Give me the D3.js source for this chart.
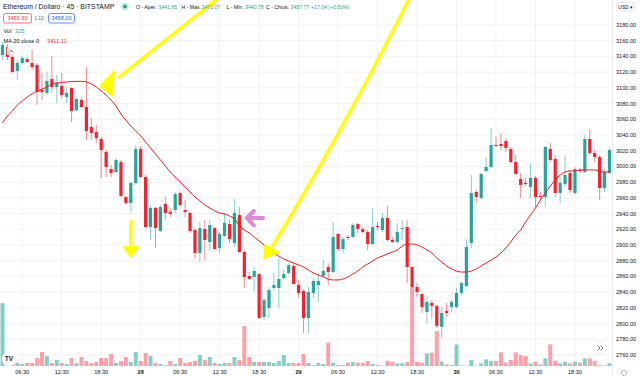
<!DOCTYPE html>
<html>
<head>
<meta charset="utf-8">
<script src="https://cdn.jsdelivr.net/npm/d3@7/dist/d3.min.js"></script>
<style>
  html, body { margin: 0; padding: 0; background: #ffffff; }
  svg { display: block; font-family: "Liberation Sans", Arial, sans-serif; }
</style>
</head>
<body>
<div id="chart"></div>
<script>
'use strict';

// ── Data: ETH/USD 45m candles ───────────────────────────────────────
const opens = [3141.8,3152.0,3139.3,3121.5,3131.6,3136.7,3131.6,3129.1,3097.3,3093.5,
  3111.3,3101.1,3102.4,3088.4,3099.8,3071.8,3084.5,3075.6,3050.2,3043.8,
  3034.9,3018.4,2996.7,2992.9,3005.6,2961.1,2953.5,2978.9,3022.2,2986.5,
  2922.9,2947.1,2917.8,2952.2,2942.0,2944.5,2966.2,2944.5,2940.7,2919.1,
  2889.8,2920.4,2903.8,2921.6,2896.2,2911.5,2926.7,2902.5,2938.2,2891.1,
  2860.6,2859.3,2863.1,2808.4,2819.8,2845.3,2845.3,2858.0,2864.4,2873.3,
  2849.1,2841.5,2807.1,2838.9,2849.1,2860.6,2872.0,2865.7,2914.0,2894.9,
  2910.2,2910.2,2926.7,2920.4,2916.5,2901.3,2924.2,2919.1,2934.4,2906.4,
  2903.8,2920.4,2922.9,2872.0,2846.6,2837.6,2814.8,2826.3,2822.5,2795.8,
  2816.0,2821.1,2821.1,2838.9,2847.8,2902.5,2967.5,2959.8,2994.2,2999.3,
  3027.3,3028.5,3032.4,3022.2,3005.6,2984.0,2978.9,2973.8,2985.3,2962.4,
  2961.1,3022.2,3009.5,2966.2,2977.6,2991.6,2966.2,2995.5,2992.9,3034.9,
  3017.1,3012.0,2972.5,2991.6];

const highs = [3158.4,3155.8,3141.8,3135.5,3140.5,3139.3,3148.2,3131.6,3118.9,3120.2,
  3140.5,3116.4,3118.9,3101.1,3101.0,3088.4,3087.1,3126.5,3061.6,3052.7,
  3037.5,3020.9,3001.8,3010.7,3008.2,2962.4,2980.2,3027.3,3026.0,2989.1,
  2950.9,2948.4,2950.9,2961.1,2947.1,2967.5,2967.5,2957.3,2942.0,2921.6,
  2929.3,2931.8,2931.8,2922.9,2916.5,2940.7,2931.8,2958.5,2948.4,2893.6,
  2865.7,2872.0,2864.4,2832.6,2846.6,2864.4,2884.7,2868.2,2877.1,2877.1,
  2855.5,2844.0,2846.6,2858.0,2864.4,2880.9,2877.1,2929.3,2915.3,2910.2,
  2912.7,2928.0,2928.0,2922.9,2919.1,2947.1,2929.3,2940.7,2949.6,2910.2,
  2928.0,2931.8,2931.8,2873.3,2851.6,2838.9,2833.8,2830.0,2824.0,2821.1,
  2826.3,2830.0,2845.3,2852.9,2907.6,2989.1,2970.0,2991.6,3012.0,3048.9,
  3037.5,3042.5,3036.2,3024.7,3014.5,2991.6,2985.3,3004.3,2987.8,2967.5,
  3026.0,3029.8,3014.5,2986.5,3014.5,2995.5,2999.3,2998.0,3040.0,3047.6,
  3020.9,3014.5,2996.7,3023.5];

const lows = [3135.5,3135.5,3118.9,3110.0,3130.4,3131.6,3122.7,3078.2,3084.5,3090.9,
  3093.5,3080.7,3087.1,3080.7,3056.5,3069.3,3074.4,3033.6,3033.6,3029.8,
  2985.3,2986.5,2986.5,2991.6,2961.1,2950.9,2942.0,2976.4,2985.3,2921.6,
  2906.4,2896.2,2916.5,2931.8,2935.6,2940.7,2948.4,2935.6,2915.3,2883.5,
  2878.4,2880.9,2893.6,2893.6,2889.8,2910.2,2902.5,2897.5,2889.8,2845.3,
  2855.5,2840.2,2805.8,2804.5,2807.1,2842.7,2819.8,2855.5,2861.8,2849.1,
  2832.6,2788.0,2788.0,2832.6,2827.5,2859.3,2849.1,2864.4,2892.4,2889.8,
  2906.4,2908.9,2915.3,2915.3,2893.6,2900.0,2919.1,2916.5,2905.1,2902.5,
  2902.5,2906.4,2851.6,2845.3,2833.8,2813.5,2800.7,2807.1,2794.5,2781.6,
  2808.4,2814.8,2819.8,2836.4,2846.6,2896.2,2954.7,2957.3,2992.9,2998.0,
  3024.7,3020.9,3018.4,3004.3,2989.1,2959.8,2975.1,2959.8,2948.4,2957.3,
  2948.4,3005.6,2961.1,2953.5,2973.8,2966.2,2963.6,2991.6,2991.6,3014.5,
  3005.6,2957.3,2967.5,2990.4];

const closes = [3154.5,3139.3,3120.2,3131.6,3138.0,3132.9,3126.5,3094.7,3094.7,3108.7,
  3101.1,3106.2,3090.9,3093.5,3070.5,3085.8,3075.6,3045.1,3042.5,3036.2,
  3020.9,2999.3,2991.6,3008.2,2962.4,2953.5,2978.9,3022.2,2986.5,2922.9,
  2947.1,2921.6,2948.4,2940.7,2939.5,2964.9,2950.9,2942.0,2917.8,2889.8,
  2921.6,2906.4,2925.5,2894.9,2914.0,2928.0,2907.6,2940.7,2891.1,2859.3,
  2856.7,2866.9,2807.1,2830.0,2842.7,2849.1,2856.7,2863.1,2874.5,2850.4,
  2838.9,2807.1,2840.2,2854.2,2854.2,2866.9,2865.7,2910.2,2894.9,2907.6,
  2908.9,2925.5,2920.4,2916.5,2901.3,2922.9,2922.9,2934.4,2906.4,2903.8,
  2916.5,2921.6,2872.0,2846.6,2840.2,2821.1,2827.5,2822.5,2797.0,2813.5,
  2813.5,2827.5,2838.9,2851.6,2897.5,2966.2,2961.1,2990.4,2999.3,3027.3,
  3026.0,3026.0,3023.5,3005.6,2990.4,2976.4,2977.6,2985.3,2961.1,2961.1,
  3024.7,3008.2,2966.2,2978.9,2989.1,2970.0,2996.7,2994.2,3034.9,3017.1,
  3012.0,2972.5,2992.9,3020.9];

const volumes = [7560,360,360,400,240,360,360,960,1680,1200,
  360,720,360,240,960,360,1080,600,360,480,
  960,960,1440,360,600,1080,480,1680,600,1560,
  1200,360,240,120,600,240,960,360,480,600,
  1320,720,1080,360,240,360,360,1080,720,4800,
  1080,480,480,480,480,360,600,1320,360,360,
  360,1440,360,120,360,240,2800,400,120,120,
  400,480,400,400,600,240,120,60,640,520,
  320,320,480,9480,520,400,1520,1600,4200,540,
  200,120,2580,60,50,720,50,320,800,600,
  600,1640,400,720,1640,1320,1200,320,520,200,
  920,2600,640,320,520,320,520,400,920,920,
  600,120,50,325];

// MA 20 (close) as drawn on the chart
const ma20 = [3055.3,3064.2,3070.5,3078.2,3083.3,3088.4,3092.2,3096.0,3098.5,3101.1,
  3104.9,3106.2,3106.8,3107.5,3108.1,3108.3,3108.3,3107.5,3104.9,3101.1,
  3096.0,3090.9,3084.5,3076.9,3066.7,3059.1,3051.5,3045.1,3038.7,3031.1,
  3023.5,3015.8,3008.2,3000.5,2992.9,2986.5,2980.2,2973.8,2967.5,2961.1,
  2956.0,2950.9,2947.1,2943.3,2940.7,2939.5,2936.9,2933.1,2924.2,2919.1,
  2915.3,2910.2,2905.1,2900.0,2894.9,2889.8,2886.0,2882.2,2879.6,2877.1,
  2874.6,2872.0,2868.2,2864.4,2861.8,2859.3,2856.7,2855.5,2855.5,2856.7,
  2859.3,2863.1,2866.9,2872.0,2875.8,2879.6,2883.5,2886.0,2888.6,2891.1,
  2893.6,2898.7,2901.3,2901.3,2900.0,2897.5,2893.6,2889.8,2883.5,2878.4,
  2873.3,2869.5,2866.9,2865.6,2865.6,2866.9,2869.5,2873.3,2877.1,2880.9,
  2884.7,2889.8,2896.2,2903.8,2912.7,2919.1,2929.3,2938.2,2947.1,2957.3,
  2966.2,2975.1,2982.7,2989.1,2992.9,2994.2,2994.2,2995.5,2995.5,2995.5,
  2995.5,2994.2,2992.9,2992.9];

const priceTicks = [3180,3160,3140,3120,3100,3080,3060,3040,3020,3000,2980,
  2960,2940,2920,2900,2880,2860,2840,2820,2800,2780,2760];

const timeTickIdx    = [4, 12, 20, 28, 36, 44, 52, 60, 68, 76, 84, 92, 100, 108, 116];
const timeTickLabels = ['06:30','12:30','18:30','28','06:30','12:30','18:30','29',
  '06:30','12:30','18:30','30','06:30','12:30','18:30'];

// Hand-drawn annotations on the screenshot, anchored in (bar index, price)
const arrowStraight = { from: [44.3, 3216.9], to: [23.4, 3112.5], tip: [19.8, 3102.4] };
const arrowCurved   = { from: [82.6, 3215.6], ctrl: [68.2, 3036.2], to: [54.6, 2897.5], tip: [53.0, 2882.2] };
const arrowDown     = { from: [26.0, 2931.8], to: [26.0, 2896.2], tip: [26.0, 2884.7] };
const arrowPink     = { from: [52.8, 2934.4], tip: [49.5, 2934.4] };

// ── Layout ──────────────────────────────────────────────────────────
const W = 640, H = 376;
const paneRight = 612;
const volBase   = 366;

const UP   = '#26a69a';
const DOWN = '#f8202e';
const TEXT = '#131722';
const GRID = '#f1f2f5';

const svg = d3.select('#chart').append('svg')
  .attr('width', W).attr('height', H);

const x    = d3.scaleLinear().domain([0, opens.length - 1]).range([2.5, 609.5]);
const y    = d3.scaleLinear().domain([2760, 3180]).range([355, 25]);
const yVol = d3.scaleLinear().domain([0, 9500]).range([volBase, 287]);

const bars = opens.map((o, i) => ({
  i, o, h: highs[i], l: lows[i], c: closes[i], v: volumes[i], up: closes[i] >= o
}));

// ── Grid ────────────────────────────────────────────────────────────
const grid = svg.append('g');
grid.selectAll('line.h').data(priceTicks).join('line')
  .attr('x1', 0).attr('x2', paneRight)
  .attr('y1', d => y(d)).attr('y2', d => y(d))
  .attr('stroke', GRID).attr('stroke-width', 1);
grid.selectAll('line.v').data(timeTickIdx).join('line')
  .attr('x1', d => x(d)).attr('x2', d => x(d))
  .attr('y1', 0).attr('y2', volBase)
  .attr('stroke', GRID).attr('stroke-width', 1);

// ── Volume ──────────────────────────────────────────────────────────
svg.append('g').selectAll('rect').data(bars).join('rect')
  .attr('x', d => x(d.i) - 2)
  .attr('width', 4)
  .attr('y', d => yVol(d.v))
  .attr('height', d => volBase - yVol(d.v))
  .attr('fill', d => d.up ? 'rgba(38,166,154,0.55)' : 'rgba(248,32,46,0.42)');

// ── Candles ─────────────────────────────────────────────────────────
const candles = svg.append('g');
candles.selectAll('line').data(bars).join('line')
  .attr('x1', d => x(d.i)).attr('x2', d => x(d.i))
  .attr('y1', d => y(d.h)).attr('y2', d => y(d.l))
  .attr('stroke', d => d.up ? UP : DOWN)
  .attr('stroke-opacity', 0.55)
  .attr('stroke-width', 1);
candles.selectAll('rect').data(bars).join('rect')
  .attr('x', d => x(d.i) - 1.6)
  .attr('width', 3.2)
  .attr('y', d => y(Math.max(d.o, d.c)))
  .attr('height', d => Math.max(1, Math.abs(y(d.o) - y(d.c))))
  .attr('fill', d => d.up ? UP : DOWN);

// ── MA 20 ───────────────────────────────────────────────────────────
svg.append('path')
  .datum(ma20)
  .attr('fill', 'none')
  .attr('stroke', '#f21a1a')
  .attr('stroke-width', 1)
  .attr('d', d3.line().x((d, i) => x(i)).y(d => y(d)).curve(d3.curveMonotoneX));

// ── Annotations ─────────────────────────────────────────────────────
const px = p => [x(p[0]), y(p[1])];
const ann = svg.append('g');

function head(tip, a, b, color) {
  const t = px(tip);
  ann.append('path')
    .attr('d', `M${t[0]},${t[1]}L${t[0] + a[0]},${t[1] + a[1]}L${t[0] + b[0]},${t[1] + b[1]}Z`)
    .attr('fill', color).attr('stroke', color)
    .attr('stroke-width', 1.5).attr('stroke-linejoin', 'round');
}

const YEL = '#ffff00';
{
  const f = px(arrowStraight.from), t = px(arrowStraight.to);
  ann.append('line').attr('x1', f[0]).attr('y1', f[1]).attr('x2', t[0]).attr('y2', t[1])
    .attr('stroke', YEL).attr('stroke-width', 3.4);
  head(arrowStraight.tip, [14, -15], [12, 10], YEL);
}
{
  const f = px(arrowCurved.from), c = px(arrowCurved.ctrl), t = px(arrowCurved.to);
  ann.append('path').attr('d', `M${f[0]},${f[1]}Q${c[0]},${c[1]} ${t[0]},${t[1]}`)
    .attr('fill', 'none').attr('stroke', YEL).attr('stroke-width', 3.4);
  head(arrowCurved.tip, [1, -14], [14, -7], YEL);
}
{
  const f = px(arrowDown.from), t = px(arrowDown.to);
  ann.append('line').attr('x1', f[0]).attr('y1', f[1]).attr('x2', t[0]).attr('y2', t[1])
    .attr('stroke', YEL).attr('stroke-width', 3.4);
  head(arrowDown.tip, [-7.5, -10], [7.5, -10], YEL);
}
{
  const f = px(arrowPink.from), t = px(arrowPink.tip);
  ann.append('path')
    .attr('d', `M${f[0]},${f[1]}L${t[0] + 1},${t[1]}M${t[0] + 7},${t[1] - 7}L${t[0]},${t[1]}L${t[0] + 7},${t[1] + 7.5}`)
    .attr('fill', 'none').attr('stroke', '#d98ad9')
    .attr('stroke-width', 4).attr('stroke-linecap', 'round').attr('stroke-linejoin', 'round');
}

// ── Price axis ──────────────────────────────────────────────────────
const axis = svg.append('g');
axis.append('rect').attr('x', paneRight).attr('y', 0)
  .attr('width', W - paneRight).attr('height', H).attr('fill', '#ffffff');
axis.append('line').attr('x1', paneRight + 0.5).attr('x2', paneRight + 0.5)
  .attr('y1', 0).attr('y2', H).attr('stroke', '#e6e8ee');
axis.selectAll('text').data(priceTicks).join('text')
  .attr('x', 616).attr('y', d => y(d) + 2)
  .attr('font-size', 5.6).attr('fill', TEXT)
  .text(d => d.toFixed(2));

// USD button
axis.append('rect').attr('x', 616.5).attr('y', 2.5).attr('width', 18).attr('height', 8.5)
  .attr('rx', 2).attr('fill', '#fff').attr('stroke', '#d9dbe2').attr('stroke-width', 0.7);
axis.append('text').attr('x', 625.5).attr('y', 8.6).attr('text-anchor', 'middle')
  .attr('font-size', 5).attr('fill', TEXT).text('USD ▾');

// gear icon, bottom right
axis.append('circle').attr('cx', 624).attr('cy', 373).attr('r', 2.6)
  .attr('fill', 'none').attr('stroke', '#787b86').attr('stroke-width', 0.9)
  .attr('stroke-dasharray', '1.2 0.8');

// ── Time axis ───────────────────────────────────────────────────────
svg.append('g').selectAll('text').data(timeTickIdx).join('text')
  .attr('x', d => x(d)).attr('y', 373.5)
  .attr('text-anchor', 'middle')
  .attr('font-size', 5.6)
  .attr('font-weight', (d, i) => /^\d\d$/.test(timeTickLabels[i]) ? 700 : 400)
  .attr('fill', TEXT)
  .text((d, i) => timeTickLabels[i]);

// scroll-to-realtime button
svg.append('circle').attr('cx', 600).attr('cy', 348).attr('r', 6.5)
  .attr('fill', '#fff').attr('stroke', '#e3e5ea').attr('stroke-width', 0.8);
svg.append('path').attr('d', 'M597.5,345.5L600,348L597.5,350.5M600.5,345.5L603,348L600.5,350.5')
  .attr('fill', 'none').attr('stroke', '#50535e').attr('stroke-width', 0.8);

// TradingView logo
svg.append('circle').attr('cx', 9).attr('cy', 359).attr('r', 7)
  .attr('fill', '#fff').attr('stroke', '#eceef2').attr('stroke-width', 0.6);
svg.append('text').attr('x', 9).attr('y', 361.3).attr('text-anchor', 'middle')
  .attr('font-size', 6.5).attr('font-weight', 700).attr('fill', '#131722').text('TV');

// ── Legend (top left) ───────────────────────────────────────────────
const legend = svg.append('g');
legend.append('text').attr('x', 3).attr('y', 9)
  .attr('font-size', 6.9).attr('fill', TEXT)
  .text('Ethereum / Dollaro · 45 · BITSTAMP');
legend.append('circle').attr('cx', 125).attr('cy', 6.5).attr('r', 4.2).attr('fill', 'rgba(38,166,154,0.2)');
legend.append('circle').attr('cx', 125).attr('cy', 6.5).attr('r', 2).attr('fill', UP);

const ohlc = [
  ['O - Aper.', 136], ['3441.65', 158.5],
  ['H - Max.', 181.5], ['3471.07', 201.5],
  ['L - Min.', 226.5], ['3440.78', 245],
  ['C - Chius.', 266], ['3457.77', 290.5],
  ['+17.04 (+0.50%)', 311]
];
legend.selectAll('text.ohlc').data(ohlc).join('text')
  .attr('class', 'ohlc')
  .attr('x', d => d[1]).attr('y', 8.8)
  .attr('font-size', 5.2)
  .attr('fill', (d, i) => i % 2 === 1 || i === 8 ? UP : TEXT)
  .text(d => d[0]);

// sell / buy boxes
legend.append('rect').attr('x', 3.5).attr('y', 13.5).attr('width', 28).attr('height', 9.5)
  .attr('rx', 2).attr('fill', '#fff').attr('stroke', '#f23645').attr('stroke-width', 0.7);
legend.append('text').attr('x', 17.5).attr('y', 20.3).attr('text-anchor', 'middle')
  .attr('font-size', 5.6).attr('fill', '#f23645').text('3456.90');
legend.append('text').attr('x', 39).attr('y', 20.3).attr('text-anchor', 'middle')
  .attr('font-size', 5).attr('fill', '#6a6d78').text('1.10');
legend.append('rect').attr('x', 48.5).attr('y', 13.5).attr('width', 26).attr('height', 9.5)
  .attr('rx', 2).attr('fill', '#fff').attr('stroke', '#2962ff').attr('stroke-width', 0.7);
legend.append('text').attr('x', 61.5).attr('y', 20.3).attr('text-anchor', 'middle')
  .attr('font-size', 5.6).attr('fill', '#2962ff').text('3458.00');

legend.append('text').attr('x', 3.5).attr('y', 32.5).attr('font-size', 5.7).attr('fill', TEXT).text('Vol');
legend.append('text').attr('x', 15).attr('y', 32.5).attr('font-size', 5.7).attr('fill', UP).text('325');

legend.append('text').attr('x', 3.5).attr('y', 43.3).attr('font-size', 5.7).attr('fill', TEXT).text('MA 20 close 0');
legend.append('text').attr('x', 47).attr('y', 43.3).attr('font-size', 5.7).attr('fill', '#f23645').text('3411.11');

// collapse button
legend.append('rect').attr('x', 7).attr('y', 47).attr('width', 8.5).attr('height', 8)
  .attr('rx', 1.5).attr('fill', 'rgba(255,255,255,0.85)').attr('stroke', '#e0e3eb').attr('stroke-width', 0.5);
legend.append('path').attr('d', 'M9.3,52.3L11.25,50.3L13.2,52.3')
  .attr('fill', 'none').attr('stroke', '#131722').attr('stroke-width', 0.7);
</script>
</body>
</html>
